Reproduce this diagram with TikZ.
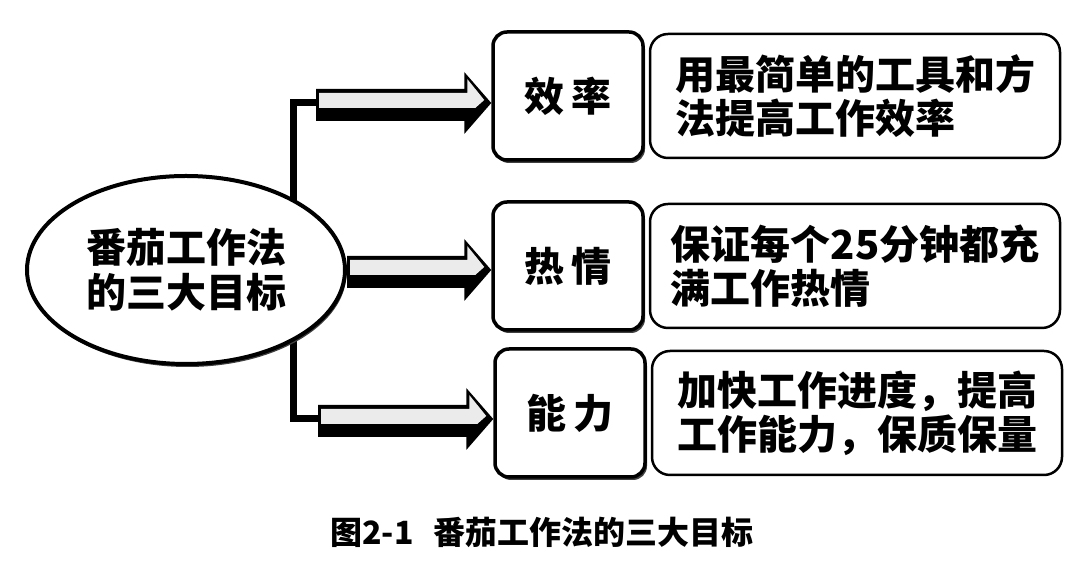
\documentclass[tikz,border=0pt]{standalone}
\usepackage{fontspec}
\setmainfont{Noto Sans CJK SC}
\usetikzlibrary{positioning, calc, shadows, shapes.geometric}

\begin{document}
\begin{tikzpicture}[x=1pt,y=1pt,
  goal/.style={draw, line width=3.5pt, rounded corners=14pt, fill=white,
    minimum width=150pt, minimum height=128pt,
    font=\bfseries\fontsize{40}{44}\selectfont,
    drop shadow={shadow xshift=2pt, shadow yshift=-3pt, fill=black!75, opacity=1}},
  detail/.style={draw, line width=2.5pt, rounded corners=18pt, fill=white,
    minimum width=410pt, minimum height=124pt, align=left,
    font=\bfseries\fontsize{40}{44}\selectfont},
  trunk/.style={line width=7pt},
  shaft/.style={fill=black},
  inlay/.style={fill=black!8}]
\useasboundingbox (0,0) rectangle (1080,567);

% goals and their details
\node[goal] (xiaolv) at (568,471) {效\hspace{7pt}率};
\node[goal] (reqing) at (568,301) {热\hspace{7pt}情};
\node[goal] (nengli) at (570,154) {能\hspace{7pt}力};
\node[detail, right=4pt of xiaolv] (xiaolvtxt) {用最简单的工具和方\\法提高工作效率};
\node[detail, right=4pt of reqing] (reqingtxt) {保证每个25分钟都充\\满工作热情};
\node[detail, right=4pt of nengli] (nenglitxt) {加快工作进度，提高\\工作能力，保质保量};

\coordinate (h1) at ([yshift=-7pt]xiaolv.west);
\coordinate (h3) at ([yshift=-6pt]nengli.west);
\coordinate (t1) at (316,0 |- h1);
\coordinate (t3) at (318,0 |- h3);
\draw[trunk] (t1) -- ++(-23,0) |- (t3);

\node[ellipse, draw, line width=4pt, fill=white, inner sep=0pt,
  minimum width=318pt, minimum height=188pt, align=center,
  font=\bfseries\fontsize{40}{45}\selectfont,
  drop shadow={shadow xshift=1.5pt, shadow yshift=-3pt, fill=black!75, opacity=1}]
  (ell) at (186,297) {番茄工作法\\的三大目标};

\coordinate (t2) at (ell.east);
\coordinate (h2) at (ell.east -| reqing.west);

% block arrows
\foreach \t/\h in {t1/h1, t2/h2, t3/h3}{
  \fill[shaft] ($(\t)+(0,14)$) -- ($(\h)+(-27,14)$) -- ($(\h)+(-27,31)$) -- (\h)
    -- ($(\h)+(-27,-31)$) -- ($(\h)+(-27,-18)$) -- ($(\t)+(0,-18)$) -- cycle;
  \fill[inlay] ($(\t)+(3,10)$) -- ($(\h)+(-24,10)$) -- ($(\h)+(-24,24)$)
    -- ($(\h)+(-7,3)$) -- ($(\h)+(-16,-5)$) -- ($(\t)+(3,-5)$) -- cycle;
}

\node[font=\bfseries\fontsize{32}{36}\selectfont]
  (caption) at (542,35) {图2-1\hspace{20pt}番茄工作法的三大目标};
\end{tikzpicture}
\end{document}
